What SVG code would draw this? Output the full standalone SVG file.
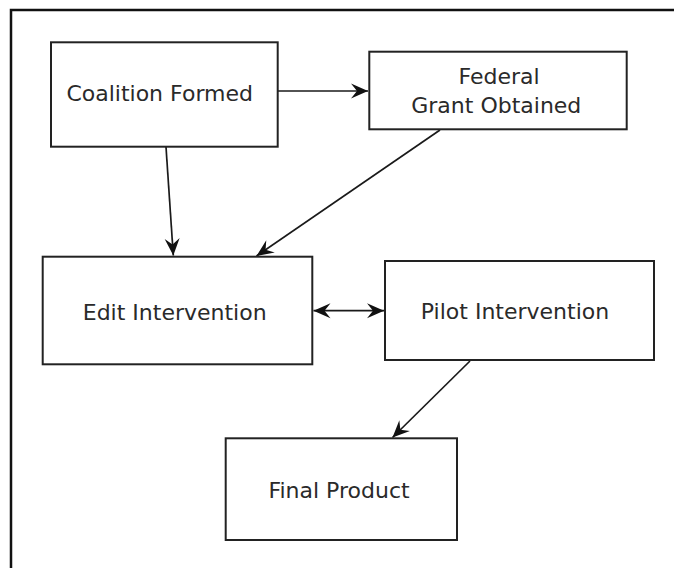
<svg xmlns="http://www.w3.org/2000/svg" width="674" height="568" viewBox="0 0 674 568">
  <style>
    .box { fill: #ffffff; stroke: #222222; stroke-width: 2; }
    .label { font-family: "DejaVu Sans", "Liberation Sans", sans-serif; font-size: 22px; fill: #2a2a2a; text-anchor: middle; }
    .edge { fill: none; stroke: #1a1a1a; stroke-width: 1.7; }
    .frame { fill: none; stroke: #111111; stroke-width: 2.5; }
  </style>
  <defs>
    <marker id="arrow" viewBox="-18 -8 19 16" refX="0" refY="0" markerWidth="19" markerHeight="16" markerUnits="userSpaceOnUse" orient="auto-start-reverse">
      <path d="M0,0 L-17,-7.5 L-11,0 L-17,7.5 Z" fill="#111111"/>
    </marker>
  </defs>

  <rect width="674" height="568" fill="#ffffff"/>

  <!-- outer frame: top and left edges -->
  <path class="frame" d="M11,568 V10 H674"/>

  <g id="connectors">
    <path class="edge" d="M277.7,91 L368,91" marker-end="url(#arrow)"/>
    <path class="edge" d="M166,147 L173.3,255.5" marker-end="url(#arrow)"/>
    <path class="edge" d="M440,130 L256.5,256" marker-end="url(#arrow)"/>
    <path class="edge" d="M313.5,310.7 L384,310.7" marker-start="url(#arrow)" marker-end="url(#arrow)"/>
    <path class="edge" d="M470,361 L392.5,437.5" marker-end="url(#arrow)"/>
  </g>

  <g id="coalition-formed">
    <rect class="box" x="51" y="42.3" width="226.7" height="104.4"/>
    <text class="label" x="159.7" y="101">Coalition Formed</text>
  </g>

  <g id="federal-grant">
    <rect class="box" x="369.3" y="51.7" width="257.4" height="77.6"/>
    <text class="label" x="499" y="84">Federal</text>
    <text class="label" x="496.3" y="113">Grant Obtained</text>
  </g>

  <g id="edit-intervention">
    <rect class="box" x="42.7" y="256.7" width="269.6" height="107.6"/>
    <text class="label" x="174.7" y="320">Edit Intervention</text>
  </g>

  <g id="pilot-intervention">
    <rect class="box" x="385" y="261" width="269" height="99"/>
    <text class="label" x="515" y="319">Pilot Intervention</text>
  </g>

  <g id="final-product">
    <rect class="box" x="225.7" y="438.3" width="231.3" height="101.7"/>
    <text class="label" x="339" y="498">Final Product</text>
  </g>
</svg>
